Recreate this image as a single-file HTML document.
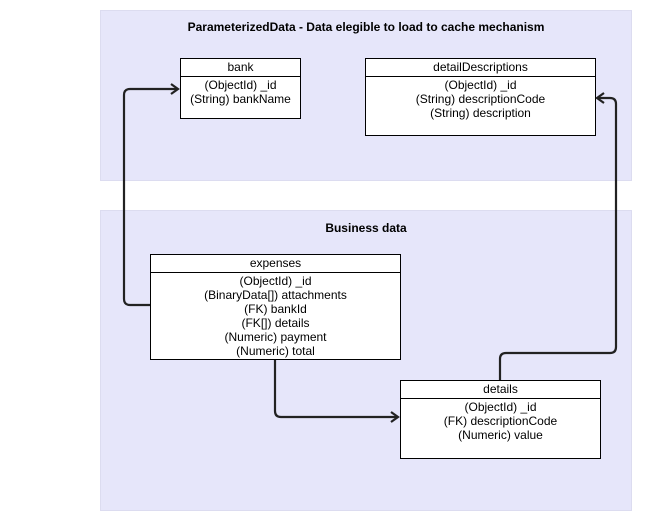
<!DOCTYPE html>
<html><head><style>
body{margin:0;width:650px;height:530px;background:#fff;position:relative;font-family:"Liberation Sans",Arial,sans-serif;font-size:12px;overflow:hidden}
.panel{position:absolute;background:#e6e6fa;border:1px solid #dcdcf0;box-sizing:border-box}
.title{position:absolute;left:0;right:0;text-align:center;font-weight:bold;font-size:12px}
.box{position:absolute;background:#fff;border:1px solid #000;box-sizing:border-box;text-align:center;line-height:14px}
.box .h{border-bottom:1px solid #000;height:17px;line-height:17px}
.box .b{padding-top:1px}
</style></head><body>
<div class="panel" style="left:100px;top:10px;width:532px;height:171px"><div class="title" style="top:9px">ParameterizedData - Data elegible to load to cache mechanism</div></div>
<div class="panel" style="left:100px;top:210px;width:532px;height:301px"><div class="title" style="top:10px">Business data</div></div>

<div class="box" style="left:180px;top:58px;width:121px;height:61px"><div class="h">bank</div><div class="b">(ObjectId) _id<br>(String) bankName</div></div>
<div class="box" style="left:365px;top:58px;width:231px;height:78px"><div class="h">detailDescriptions</div><div class="b">(ObjectId) _id<br>(String) descriptionCode<br>(String) description</div></div>
<div class="box" style="left:150px;top:254px;width:251px;height:106px"><div class="h">expenses</div><div class="b">(ObjectId) _id<br>(BinaryData[]) attachments<br>(FK) bankId<br>(FK[]) details<br>(Numeric) payment<br>(Numeric) total</div></div>
<div class="box" style="left:400px;top:380px;width:201px;height:79px"><div class="h">details</div><div class="b">(ObjectId) _id<br>(FK) descriptionCode<br>(Numeric) value</div></div>

<svg width="650" height="530" style="position:absolute;left:0;top:0" fill="none" stroke="#222" stroke-width="2.2">
<path d="M150 305 H130 Q124 305 124 299 V95 Q124 89 130 89 H177"/>
<path d="M171 84 L178 89 L171 94"/>
<path d="M500 380 V359 Q500 353 506 353 H610 Q616 353 616 347 V104 Q616 98 610 98 H597"/>
<path d="M604 93 L597 98 L604 103"/>
<path d="M275 360 V411 Q275 417 281 417 H398"/>
<path d="M391 412 L398 417 L391 422"/>
</svg>
</body></html>
